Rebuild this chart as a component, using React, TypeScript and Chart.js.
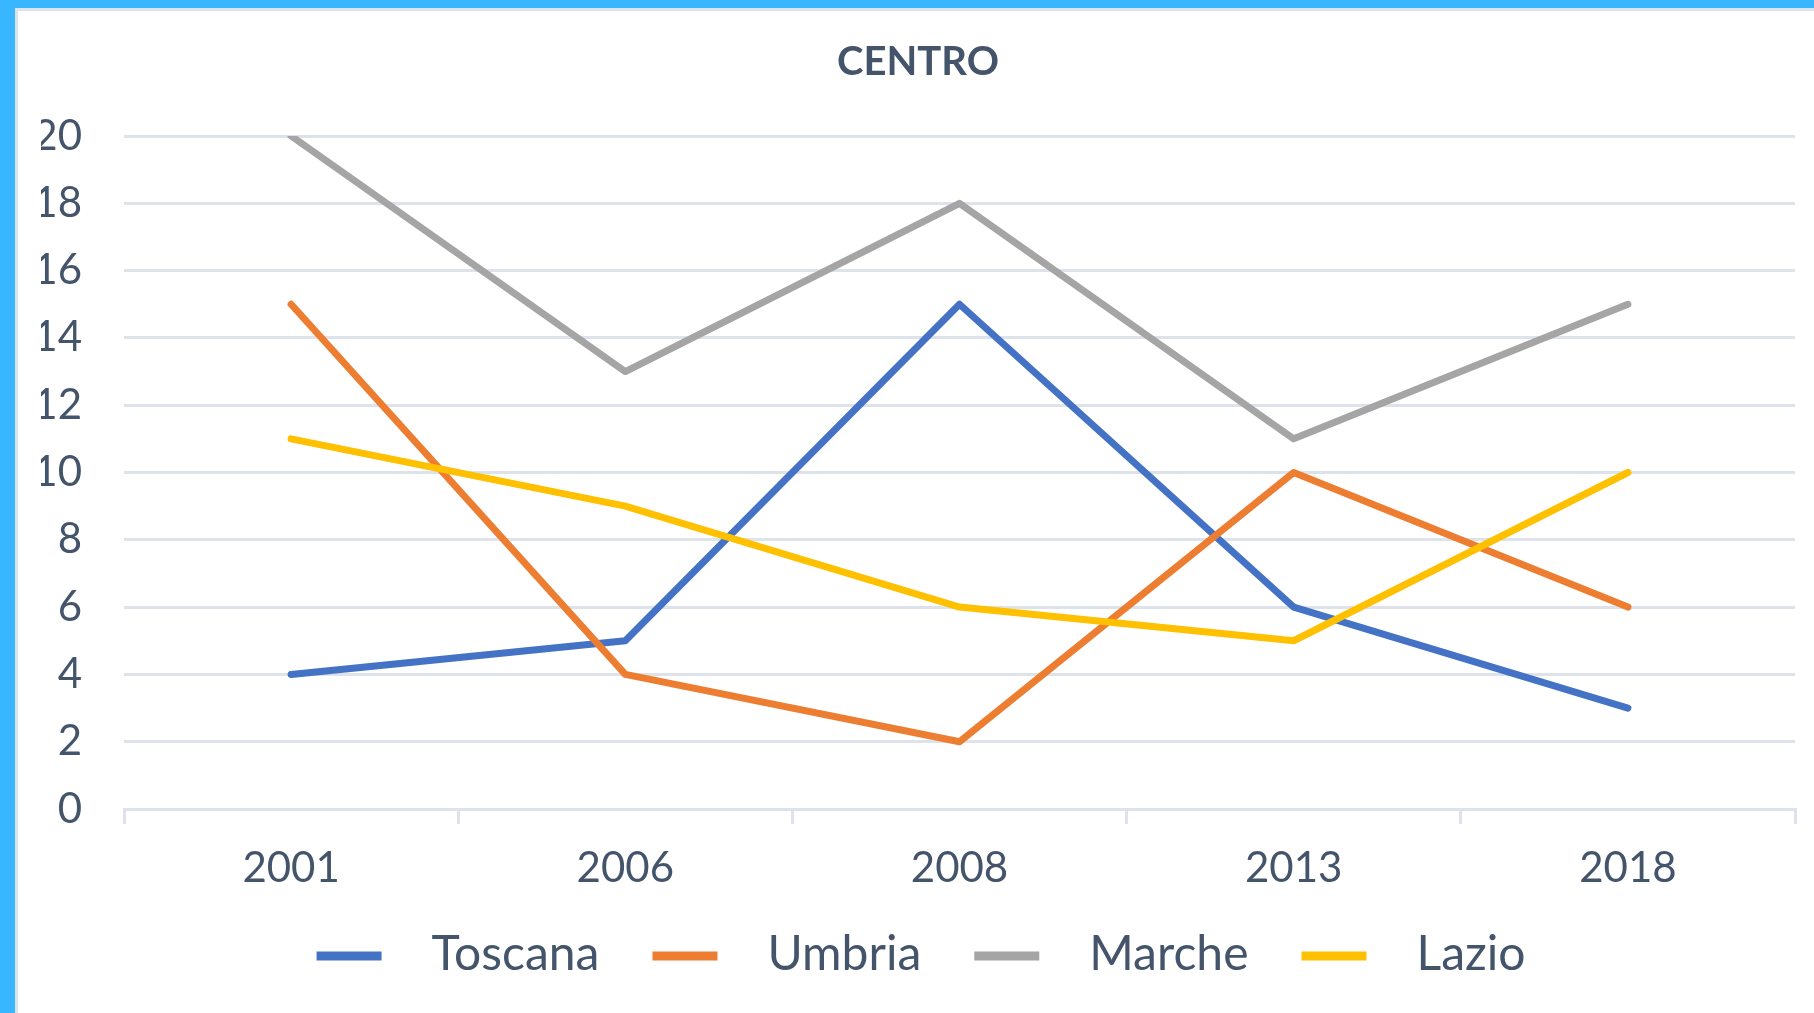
import React, { useEffect, useRef } from "react";
import { Chart, registerables } from "chart.js";

Chart.register(...registerables);

const chartTitle = "CENTRO";
const categories = ["2001", "2006", "2008", "2013", "2018"];
const seriesNames = ["Toscana", "Umbria", "Marche", "Lazio"];
const toscana = [4, 5, 15, 6, 3];
const umbria = [15, 4, 2, 10, 6];
const marche = [20, 13, 18, 11, 15];
const lazio = [11, 9, 6, 5, 10];
const seriesValues = [toscana, umbria, marche, lazio];
const seriesColors = ["#4472C4", "#ED7D31", "#A5A5A5", "#FFC000"];
const yMin = 0;
const yMax = 20;
const yStep = 2;

const TEXT = "#44546A";
const GRID = "#DEE2EA";
const FONT = "Lato, 'Open Sans', sans-serif";
const CW = 1796;
const CH = 1002;

const bottomLegend = {
  id: "bottomLegend",
  afterDraw(chart: any) {
    const ctx = chart.ctx as CanvasRenderingContext2D;
    ctx.save();
    ctx.font = `48px ${FONT}`;
    const boxW = 65;
    const gapText = 50;
    const gapItem = 53;
    const lineY = 945;
    const items = chart.data.datasets.map((ds: any) => ({
      label: ds.label as string,
      color: ds.borderColor as string,
      w: ctx.measureText(ds.label).width,
    }));
    const total =
      items.reduce((s: number, it: any) => s + boxW + gapText + it.w, 0) +
      gapItem * (items.length - 1);
    let x = (chart.width - total) / 2 + 5;
    for (const it of items) {
      ctx.fillStyle = it.color;
      ctx.fillRect(x, lineY - 4.5, boxW, 9);
      x += boxW + gapText;
      ctx.fillStyle = TEXT;
      ctx.textBaseline = "alphabetic";
      ctx.textAlign = "left";
      ctx.fillText(it.label, x, lineY + 14);
      x += it.w + gapItem;
    }
    ctx.restore();
  },
};

export default function App() {
  const ref = useRef<HTMLCanvasElement | null>(null);

  useEffect(() => {
    if (!ref.current) return;
    const chart = new Chart(ref.current, {
      type: "line",
      data: {
        labels: categories,
        datasets: seriesNames.map((name, i) => ({
          label: name,
          data: seriesValues[i],
          borderColor: seriesColors[i],
          backgroundColor: seriesColors[i],
          borderWidth: 7,
          pointRadius: 0,
          pointHoverRadius: 0,
          tension: 0,
          borderJoinStyle: "round" as const,
          borderCapStyle: "round" as const,
          fill: false,
          order: seriesNames.length - i,
        })),
      },
      options: {
        responsive: false,
        animation: false,
        layout: { padding: { left: 23, right: 19, top: 0, bottom: 0 } },
        plugins: {
          legend: { display: false },
          tooltip: { enabled: false },
          title: {
            display: true,
            text: chartTitle,
            color: TEXT,
            font: { family: FONT, size: 40, weight: "bold", lineHeight: 1.2 },
            padding: { top: 27, bottom: 50 },
          },
        },
        scales: {
          x: {
            type: "category",
            offset: true,
            grid: {
              offset: true,
              drawOnChartArea: false,
              drawTicks: true,
              tickLength: 15,
              color: GRID,
              lineWidth: 3,
            },
            border: { display: true, color: GRID, width: 3 },
            ticks: {
              color: TEXT,
              font: { family: FONT, size: 42, lineHeight: 1.2 },
              padding: 19,
              maxRotation: 0,
            },
            afterFit(scale: any) {
              scale.height = 204;
            },
          },
          y: {
            min: yMin,
            max: yMax,
            grid: {
              color: GRID,
              lineWidth: 3,
              drawTicks: false,
            },
            border: { display: false },
            ticks: {
              stepSize: yStep,
              color: TEXT,
              font: { family: FONT, size: 42, lineHeight: 1.2 },
              padding: 42,
            },
            afterFit(scale: any) {
              scale.width = 83;
            },
          },
        },
      },
      plugins: [bottomLegend],
    });
    return () => chart.destroy();
  }, []);

  return (
    <div
      style={{
        position: "fixed",
        left: 0,
        top: 0,
        width: 1814,
        height: 1013,
        background: "#38B6FF",
        overflow: "hidden",
      }}
    >
      <div
        style={{
          position: "absolute",
          left: 15,
          top: 8,
          width: 1799,
          height: 1005,
          background: "#FFFFFF",
          borderLeft: `3px solid ${GRID}`,
          borderTop: `3px solid ${GRID}`,
          boxSizing: "border-box",
        }}
      >
        <canvas
          ref={ref}
          width={CW}
          height={CH}
          style={{ display: "block", width: CW, height: CH }}
        />
      </div>
    </div>
  );
}
